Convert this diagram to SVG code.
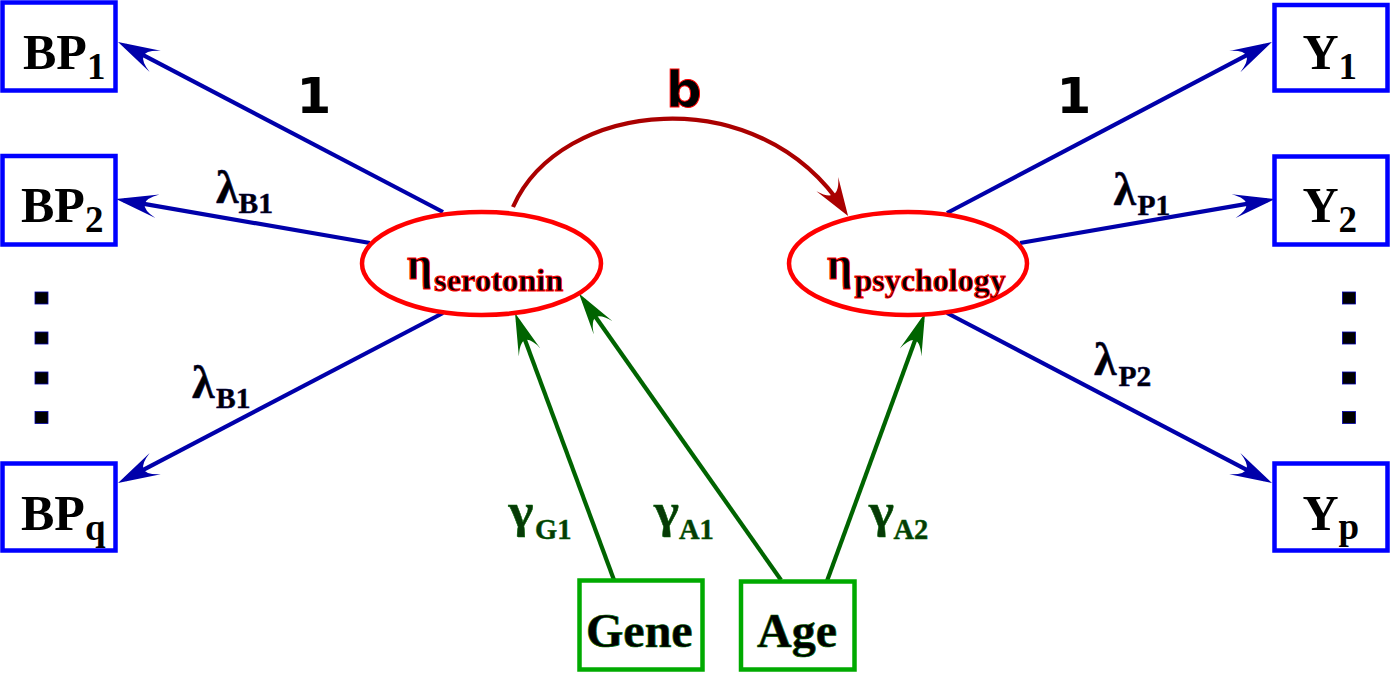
<svg xmlns="http://www.w3.org/2000/svg" width="1390" height="673" viewBox="0 0 1390 673">
<style>
.box{fill:#fff;stroke:#0000ff;stroke-width:4.5}
.gbox{fill:#fff;stroke:#00aa00;stroke-width:4.5}
.ell{fill:#fff;stroke:#ff0000;stroke-width:4.5}
.bl{fill:none;stroke:#0000aa;stroke-width:4.2;marker-end:url(#ab)}
.gl{fill:none;stroke:#006400;stroke-width:4.2;marker-end:url(#ag)}
.rl{fill:none;stroke:#aa0000;stroke-width:4.2;marker-end:url(#ar)}
.t{font-family:"Liberation Serif","Times New Roman",serif;font-weight:bold;fill:#000}
.s{font-family:"DejaVu Sans","Liberation Sans",sans-serif;font-weight:bold;fill:#000}
.eta{stroke:#ff0000;stroke-width:1}
.lam{stroke:#000066;stroke-width:0.5}
.gam{fill:#063a06;stroke:#006400;stroke-width:0.5}
.gt{stroke:#006400;stroke-width:0.7}
.dot{fill:#000;stroke:#0000aa;stroke-width:0.8}
</style>
<defs>
<marker id="ab" markerUnits="userSpaceOnUse" markerWidth="50" markerHeight="30" viewBox="-40 -15 50 30" refX="0" refY="0" orient="auto"><path d="M8,0 L-34,-12 Q-8,0 -34,12 Z" fill="#0000aa"/></marker>
<marker id="ag" markerUnits="userSpaceOnUse" markerWidth="50" markerHeight="30" viewBox="-40 -15 50 30" refX="0" refY="0" orient="auto"><path d="M8,0 L-34,-11.5 Q-8,0 -34,11.5 Z" fill="#006400"/></marker>
<marker id="ar" markerUnits="userSpaceOnUse" markerWidth="50" markerHeight="30" viewBox="-40 -15 50 30" refX="0" refY="0" orient="auto"><path d="M8,0 L-30,-13 Q-6,0 -30,13 Z" fill="#aa0000"/></marker>
</defs>

<g id="connectors">
<line class="bl" x1="443" y1="212" x2="125.1" y2="45.7"/>
<line class="bl" x1="370" y1="243" x2="123.9" y2="200.4"/>
<line class="bl" x1="443" y1="313" x2="125.1" y2="479.3"/>
<line class="bl" x1="947" y1="213" x2="1264.9" y2="45.7"/>
<line class="bl" x1="1020" y1="243" x2="1267.1" y2="200.4"/>
<line class="bl" x1="947" y1="313" x2="1264.9" y2="479.3"/>
<line class="gl" x1="614" y1="580" x2="517.8" y2="320.5"/>
<line class="gl" x1="781" y1="580" x2="583.6" y2="300"/>
<line class="gl" x1="827" y1="581" x2="922.3" y2="320.5"/>
<path class="rl" d="M513,207 C560,100 758,78 843.7,209.3"/>
</g>

<g id="BP1"><rect class="box" x="2.5" y="2.5" width="113" height="88"/>
<text class="t" x="23" y="68.5" font-size="50">BP<tspan y="79" font-size="37">1</tspan></text></g>
<g id="BP2"><rect class="box" x="2.5" y="156" width="113" height="88.5"/>
<text class="t" x="21" y="221.7" font-size="50">BP<tspan y="231.7" font-size="37">2</tspan></text></g>
<g id="BPq"><rect class="box" x="2.5" y="463.5" width="113" height="87"/>
<text class="t" x="21" y="530" font-size="50">BP<tspan y="540" font-size="37">q</tspan></text></g>

<g id="Y1"><rect class="box" x="1274.5" y="5" width="113" height="85.5"/>
<text class="t" x="1302.5" y="69.3" font-size="50">Y<tspan y="79" font-size="37">1</tspan></text></g>
<g id="Y2"><rect class="box" x="1274.5" y="156.5" width="113" height="88"/>
<text class="t" x="1302.5" y="221.7" font-size="50">Y<tspan y="231.7" font-size="37">2</tspan></text></g>
<g id="Yp"><rect class="box" x="1274.5" y="463.5" width="113" height="87"/>
<text class="t" x="1302.5" y="530" font-size="50">Y<tspan y="539" font-size="37">p</tspan></text></g>

<g id="dots-left">
<rect class="dot" x="35" y="292" width="13" height="12"/>
<rect class="dot" x="35" y="332" width="13" height="12"/>
<rect class="dot" x="35" y="372" width="13" height="12"/>
<rect class="dot" x="35" y="411.5" width="13" height="12"/>
</g>
<g id="dots-right">
<rect class="dot" x="1342.5" y="292" width="13" height="12"/>
<rect class="dot" x="1342.5" y="332" width="13" height="12"/>
<rect class="dot" x="1342.5" y="372" width="13" height="12"/>
<rect class="dot" x="1342.5" y="411.5" width="13" height="12"/>
</g>

<g id="eta-serotonin"><ellipse class="ell" cx="481.5" cy="263.5" rx="119.5" ry="51.5"/>
<text class="t eta" x="407" y="278.5" font-size="47"><tspan textLength="25" lengthAdjust="spacingAndGlyphs">η</tspan><tspan x="434" y="290.5" font-size="32.5">serotonin</tspan></text></g>
<g id="eta-psychology"><ellipse class="ell" cx="908" cy="263.5" rx="119" ry="51.5"/>
<text class="t eta" x="827" y="278.5" font-size="47"><tspan textLength="25" lengthAdjust="spacingAndGlyphs">η</tspan><tspan x="854.5" y="290.5" font-size="32">psychology</tspan></text></g>

<g id="Gene"><rect class="gbox" x="579.5" y="580.5" width="123" height="89"/>
<text class="t gt" x="586" y="646.7" font-size="48">Gene</text></g>
<g id="Age"><rect class="gbox" x="741" y="581.5" width="113.5" height="88"/>
<text class="t gt" x="757" y="646.7" font-size="48">Age</text></g>

<g id="labels">
<text class="s" x="314" y="112.5" font-size="50" text-anchor="middle">1</text>
<text class="s" x="1074" y="112.5" font-size="50" text-anchor="middle">1</text>
<text class="s" x="684" y="106.7" font-size="50" text-anchor="middle" stroke="#ff0000" stroke-width="1">b</text>
<text class="t lam" x="216" y="202.7" font-size="47"><tspan textLength="22.5" lengthAdjust="spacingAndGlyphs">λ</tspan><tspan x="238.5" y="212.7" font-size="29.5">B1</tspan></text>
<text class="t lam" x="192" y="398.3" font-size="47"><tspan textLength="22.5" lengthAdjust="spacingAndGlyphs">λ</tspan><tspan x="216" y="408.3" font-size="29.5">B1</tspan></text>
<text class="t lam" x="1113.5" y="205" font-size="47"><tspan textLength="22.5" lengthAdjust="spacingAndGlyphs">λ</tspan><tspan x="1137.5" y="215" font-size="29.5">P1</tspan></text>
<text class="t lam" x="1094" y="375" font-size="47"><tspan textLength="22.5" lengthAdjust="spacingAndGlyphs">λ</tspan><tspan x="1118.5" y="386" font-size="29.5">P2</tspan></text>
<text class="t gam" x="508.5" y="527" font-size="48"><tspan textLength="25" lengthAdjust="spacingAndGlyphs">γ</tspan><tspan x="535" y="538.5" font-size="28.5">G1</tspan></text>
<text class="t gam" x="654" y="527" font-size="48"><tspan textLength="25" lengthAdjust="spacingAndGlyphs">γ</tspan><tspan x="679" y="538.5" font-size="28.5">A1</tspan></text>
<text class="t gam" x="869" y="527" font-size="48"><tspan textLength="25" lengthAdjust="spacingAndGlyphs">γ</tspan><tspan x="893.5" y="538.5" font-size="28.5">A2</tspan></text>
</g>
</svg>
